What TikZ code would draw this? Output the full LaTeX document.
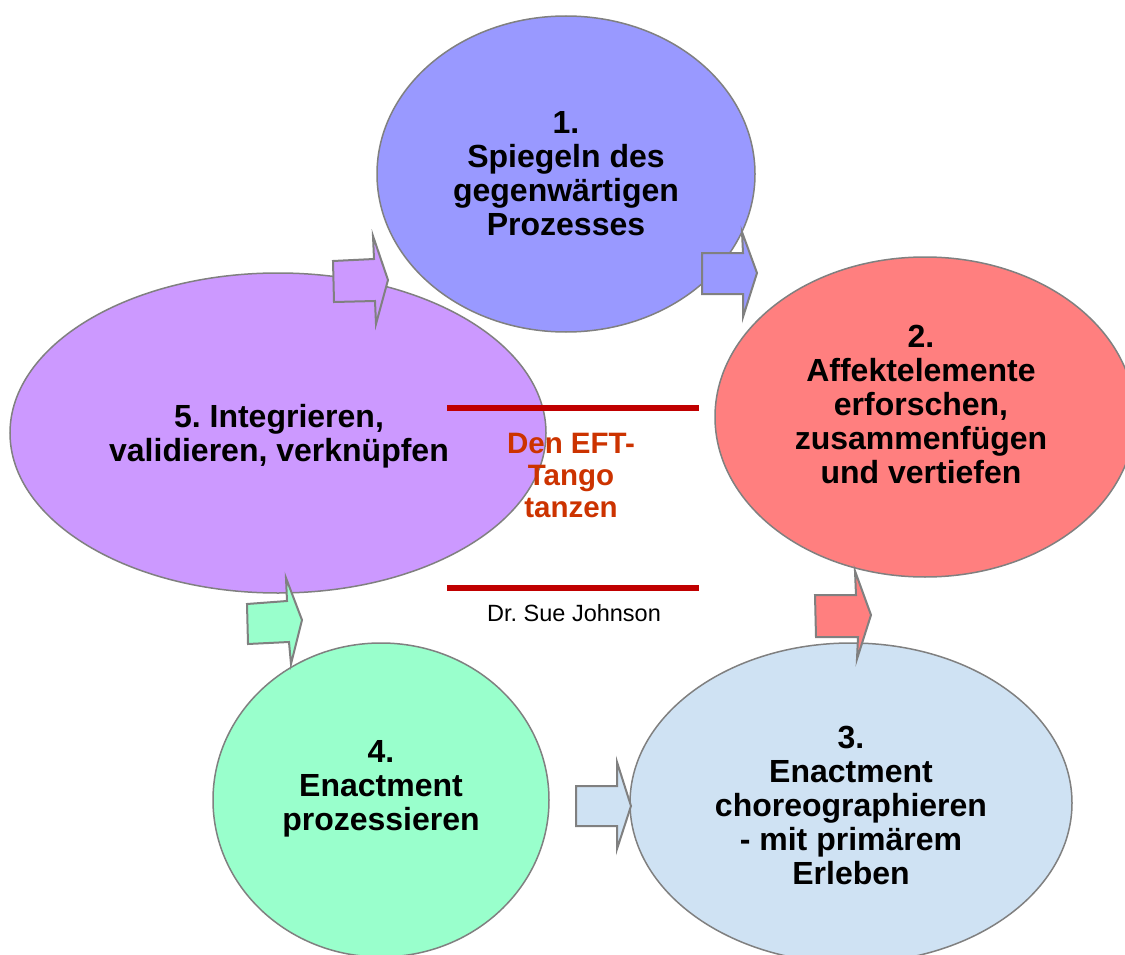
\documentclass[tikz,border=0pt]{standalone}
\usepackage{fontspec}
\setmainfont{Liberation Sans}
\usetikzlibrary{shapes.geometric}
\definecolor{cone}{HTML}{9999FF}
\definecolor{ctwo}{HTML}{FF7F7F}
\definecolor{cthree}{HTML}{CFE2F3}
\definecolor{cfour}{HTML}{99FFCC}
\definecolor{cfive}{HTML}{CC99FF}
\definecolor{edgegray}{HTML}{808080}
\definecolor{tango}{HTML}{CC3300}
\definecolor{barred}{HTML}{C00000}
\frenchspacing
\begin{document}
\begin{tikzpicture}[x=1pt,y=-1pt,
  oval/.style={draw=edgegray, line width=1.5pt, ellipse, inner sep=0pt},
  steptext/.style={align=center, font=\bfseries\fontsize{32}{34}\selectfont, text=black},
  blockarrow/.style={draw=edgegray, line width=2pt, line join=miter},
  bar/.style={draw=barred, line width=6pt},
  tangotext/.style={align=center, font=\bfseries\fontsize{29.5}{32}\selectfont, text=tango},
  authortext/.style={font=\fontsize{23.5}{26}\selectfont, text=black}]
\useasboundingbox (0,0) rectangle (1125,955);
\fill[white] (0,0) rectangle (1125,955);
\clip (0,0) rectangle (1125,955);
% ellipses
\node[oval, fill=cfive, minimum width=536pt, minimum height=320pt] (e5) at (278,433) {};
\node[oval, fill=cone, minimum width=378pt, minimum height=316pt] (e1) at (566,174) {};
\node[oval, fill=ctwo, minimum width=420pt, minimum height=320pt] (e2) at (925,417) {};
\node[oval, fill=cfour, minimum width=336pt, minimum height=314pt] (e4) at (381,800) {};
\node[oval, fill=cthree, minimum width=442pt, minimum height=320pt] (e3) at (851,803) {};
% red bars
\draw[bar] (447,408) -- (699,408);
\draw[bar] (447,588) -- (699,588);
% block arrows
\draw[blockarrow, fill=cfive] (333,261) -- (374,259) -- (373,236) -- (388,280) -- (376,324) -- (375,301) -- (334,302) -- cycle;
\draw[blockarrow, fill=cone] (702,253) -- (743,253) -- (742,232) -- (757,273) -- (743,317) -- (743,294) -- (702,294) -- cycle;
\draw[blockarrow, fill=ctwo] (815,595) -- (856,595) -- (855,571) -- (871,615) -- (857,659) -- (858,637) -- (816,637) -- cycle;
\draw[blockarrow, fill=cthree] (576,786) -- (617,786) -- (617,762) -- (631,806) -- (617,849) -- (617,826) -- (576,826) -- cycle;
\draw[blockarrow, fill=cfour] (247,604) -- (287,601) -- (286,578) -- (302,620) -- (291,664) -- (289,642) -- (248,644) -- cycle;
% texts
\node[steptext] (t1) at (566,174) {1.\\Spiegeln des\\gegenwärtigen\\Prozesses};
\node[steptext] (t2) at (921,404) {2.\\Affektelemente\\erforschen,\\zusammenfügen\\und vertiefen};
\node[steptext] (t3) at (851,805) {3.\\Enactment\\choreographieren\\- mit primärem\\Erleben};
\node[steptext] (t4) at (381,789) {4.\\Enactment\\prozessieren};
\node[steptext] (t5) at (279,436) {5. Integrieren,\\validieren, verknüpfen};
\node[tangotext] (tango) at (571,475) {Den EFT-\\Tango\\tanzen};
\node[authortext] (author) at (574,613) {Dr. Sue Johnson};
\end{tikzpicture}
\end{document}
